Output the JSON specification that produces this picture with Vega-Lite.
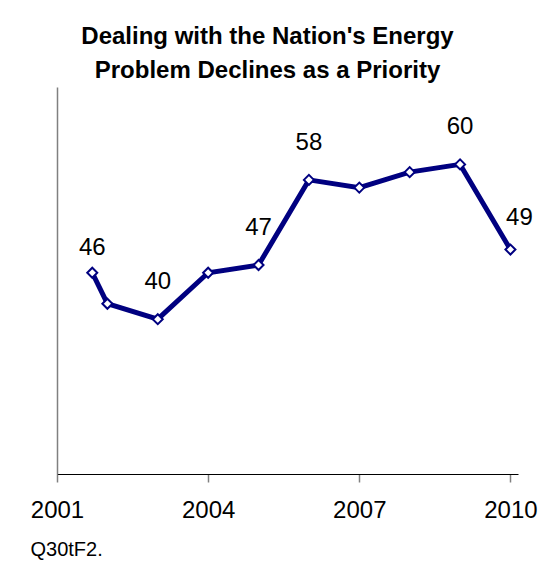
{
  "$schema": "https://vega.github.io/schema/vega-lite/v6.json",
  "width": 461,
  "height": 387,
  "autosize": {"type": "none"},
  "padding": {"left": 57, "top": 87, "right": 40, "bottom": 103},
  "background": "white",
  "config": {"view": {"stroke": null}, "font": "Liberation Sans"},
  "title": {
    "text": ["Dealing with the Nation's Energy", "Problem Declines as a Priority"],
    "font": "Liberation Sans",
    "fontSize": 24,
    "fontWeight": "bold",
    "color": "black",
    "anchor": "middle",
    "baseline": "alphabetic",
    "lineHeight": 34,
    "offset": 8,
    "dx": -20,
    "dy": 23
  },
  "data": {
    "values": [
      {"year": 2001.7, "value": 46, "label": "46"},
      {"year": 2002.0, "value": 42, "label": ""},
      {"year": 2003.0, "value": 40, "label": "40"},
      {"year": 2004.0, "value": 46, "label": ""},
      {"year": 2005.0, "value": 47, "label": "47"},
      {"year": 2006.0, "value": 58, "label": "58"},
      {"year": 2007.0, "value": 57, "label": ""},
      {"year": 2008.0, "value": 59, "label": ""},
      {"year": 2009.0, "value": 60, "label": "60"},
      {"year": 2010.0, "value": 49, "label": "49"}
    ]
  },
  "encoding": {
    "x": {
      "field": "year",
      "type": "quantitative",
      "scale": {"domain": [2001, 2010.15], "nice": false, "zero": false},
      "axis": {
        "values": [2001, 2004, 2007, 2010],
        "format": "d",
        "grid": false,
        "domainColor": "black",
        "domainWidth": 1,
        "tickColor": "#808080",
        "tickSize": 8,
        "tickWidth": 1.5,
        "labelFont": "Liberation Sans",
        "labelFontSize": 24,
        "labelColor": "black",
        "labelPadding": 16,
        "labelFlush": false,
        "labelOverlap": false,
        "labelBound": false,
        "title": "Q30tF2.",
        "titleFont": "Liberation Sans",
        "titleFontSize": 20,
        "titleFontWeight": "normal",
        "titleColor": "black",
        "titleAnchor": "start",
        "titleAlign": "left",
        "titleBaseline": "alphabetic",
        "titleX": -27,
        "titleY": 81
      }
    },
    "y": {
      "field": "value",
      "type": "quantitative",
      "scale": {"domain": [20, 70], "nice": false, "zero": false},
      "axis": {
        "title": null,
        "labels": false,
        "ticks": false,
        "grid": false,
        "domainColor": "#808080",
        "domainWidth": 1.5
      }
    }
  },
  "layer": [
    {"mark": {"type": "line", "color": "#000080", "strokeWidth": 5}},
    {"mark": {"type": "point", "shape": "diamond", "filled": true, "fill": "white", "stroke": "#000080", "strokeWidth": 2, "size": 100, "opacity": 1}},
    {
      "transform": [{"filter": "datum.label != '' && datum.year != 2001.7 && datum.year != 2010"}],
      "mark": {"type": "text", "dy": -30, "baseline": "alphabetic", "fontSize": 24, "font": "Liberation Sans", "color": "black"},
      "encoding": {"text": {"field": "label"}}
    },
    {
      "transform": [{"filter": "datum.year == 2001.7"}],
      "mark": {"type": "text", "dy": -18, "baseline": "alphabetic", "fontSize": 24, "font": "Liberation Sans", "color": "black"},
      "encoding": {"text": {"field": "label"}}
    },
    {
      "transform": [{"filter": "datum.year == 2010"}],
      "mark": {"type": "text", "dy": -25, "dx": 9, "baseline": "alphabetic", "fontSize": 24, "font": "Liberation Sans", "color": "black"},
      "encoding": {"text": {"field": "label"}}
    }
  ]
}
